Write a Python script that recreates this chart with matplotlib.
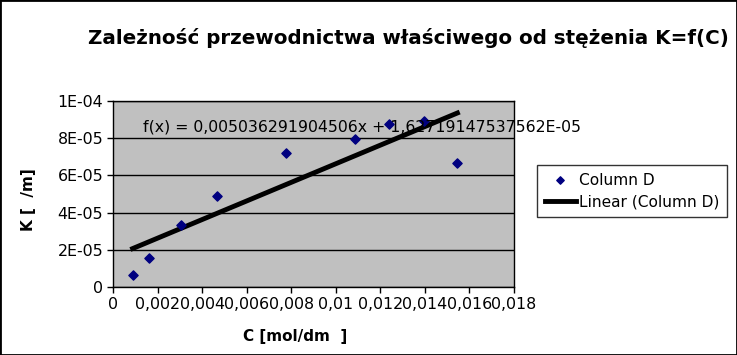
import numpy as np
import matplotlib.pyplot as plt
from matplotlib.patches import Rectangle

# data
conc = [0.00088, 0.0016, 0.00305, 0.00468, 0.00778, 0.01088, 0.01237, 0.01395, 0.01546]
kappa = [6.45e-6, 1.54e-5, 3.33e-5, 4.91e-5, 7.22e-5, 7.94e-5, 8.78e-5, 8.92e-5, 6.67e-5]
xticks = [0, 0.002, 0.004, 0.006, 0.008, 0.01, 0.012, 0.014, 0.016, 0.018]
xtick_labels = ["0", "0,002", "0,004", "0,006", "0,008", "0,01", "0,012", "0,014", "0,016", "0,018"]
yticks = [0, 2e-5, 4e-5, 6e-5, 8e-5, 1e-4]
ytick_labels = ["0", "2E-05", "4E-05", "6E-05", "8E-05", "1E-04"]
eq_text = "f(x) = 0,005036291904506x + 1,62719147537562E-05"

fig = plt.figure(figsize=(7.37, 3.55), dpi=100)
fig.patch.set_facecolor("white")
fig.patches.append(Rectangle((0, 0), 1, 1, transform=fig.transFigure,
                             fill=False, edgecolor="black", linewidth=2))

ax = fig.add_axes([113 / 737, 68 / 355, 401 / 737, 186 / 355])
ax.set_facecolor("#c0c0c0")
ax.set_xlim(0, 0.018)
ax.set_ylim(0, 1e-4)
ax.set_yticks(yticks)
ax.set_yticklabels(ytick_labels)
ax.set_xticks(xticks)
ax.set_xticklabels(xtick_labels)
ax.tick_params(labelsize=11.4, direction="out", length=4, width=1, pad=3)
ax.yaxis.grid(True, color="black", linewidth=1)
ax.set_axisbelow(True)
for s in ax.spines.values():
    s.set_color("black")
    s.set_linewidth(1)

# linear trend line
x = np.array(conc)
a, b = np.polyfit(x, np.array(kappa), 1)
xs = np.array([x.min(), x.max()])
ax.plot(xs, a * xs + b, color="black", linewidth=3.5, label="Linear (Column D)", zorder=2)
ax.scatter(conc, kappa, marker="D", s=22, color="#000080", label="Column D", zorder=3)

ax.text(143 / 737, 1 - 127 / 355, eq_text, transform=fig.transFigure, fontsize=11.3,
        va="center", ha="left", clip_on=False)

fig.text(88 / 737, 1 - 38 / 355, "Zależność przewodnictwa właściwego od stężenia K=f(C)",
         fontsize=14.3, fontweight="bold", va="center", ha="left")
fig.text(28 / 737, 1 - 200 / 355, "K [  /m]", rotation=90, fontsize=11,
         fontweight="bold", va="center", ha="center")
fig.text(295 / 737, 1 - 337 / 355, "C [mol/dm  ]", fontsize=11,
         fontweight="bold", va="center", ha="center")

h, l = ax.get_legend_handles_labels()
leg = fig.legend([h[1], h[0]], [l[1], l[0]], loc="center left",
                 bbox_to_anchor=(537 / 737, 1 - 191 / 355), fontsize=11.1,
                 frameon=True, fancybox=False, edgecolor="black",
                 handlelength=2.0, handletextpad=0.2, borderpad=0.5,
                 labelspacing=0.45, borderaxespad=0, markerscale=0.8)
leg.get_frame().set_linewidth(1)

fig.savefig("out.png", dpi=100)
